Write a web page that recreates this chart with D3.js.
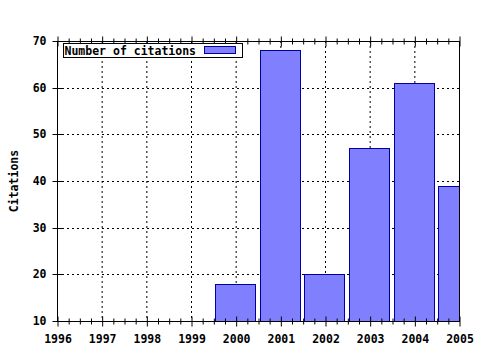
<!DOCTYPE html>
<html>
<head>
<meta charset="utf-8">
<script src="https://cdn.jsdelivr.net/npm/d3@7"></script>
<style>
  body { margin: 0; background: #fff; }
  text { font-family: "DejaVu Sans Mono", monospace; font-weight: bold; font-size: 11.5px; fill: #000; }
</style>
</head>
<body>
<div id="chart"></div>
<script>
// data
const years = [1996, 1997, 1998, 1999, 2000, 2001, 2002, 2003, 2004, 2005];
const citations = [0, 0, 0, 0, 18, 68, 20, 47, 61, 39];
const yTicks = [10, 20, 30, 40, 50, 60, 70];
const seriesName = 'Number of citations';

const width = 480, height = 350;
const margin = { top: 41, right: 21, bottom: 29, left: 57 };
const w = width - margin.left - margin.right;
const h = height - margin.top - margin.bottom;

const svg = d3.select('#chart').append('svg')
  .attr('width', width)
  .attr('height', height);

const g = svg.append('g')
  .attr('transform', `translate(${margin.left},${margin.top})`);

const x = d3.scaleLinear().domain([1996, 2005]).range([0, w]);
const y = d3.scaleLinear().domain([10, 70]).range([h, 0]);

g.append('clipPath').attr('id', 'clip')
  .append('rect').attr('width', w).attr('height', h);

// dotted grid
g.append('g').selectAll('line.vg')
  .data(years.slice(1, -1))
  .enter().append('line')
  .attr('x1', d => x(d) + 0.5).attr('x2', d => x(d) + 0.5)
  .attr('y1', 0).attr('y2', h)
  .attr('stroke', '#000').attr('stroke-dasharray', '2,3');

g.append('g').selectAll('line.hg')
  .data(yTicks.slice(1, -1))
  .enter().append('line')
  .attr('x1', 0).attr('x2', w)
  .attr('y1', d => Math.round(y(d)) + 0.5).attr('y2', d => Math.round(y(d)) + 0.5)
  .attr('stroke', '#000').attr('stroke-dasharray', '2,3');

// bars
const barW = (x(1997) - x(1996)) * 0.9;
g.append('g').attr('clip-path', 'url(#clip)')
  .selectAll('rect')
  .data(years.map((yr, i) => ({ yr, v: citations[i] })).filter(d => d.v > 10))
  .enter().append('rect')
  .attr('x', d => Math.floor(x(d.yr) - barW / 2) + 0.5)
  .attr('y', d => Math.round(y(d.v)) + 0.5)
  .attr('width', Math.round(barW))
  .attr('height', d => Math.round(y(10) - y(d.v)))
  .attr('fill', '#8080ff')
  .attr('stroke', '#0000a0');

// border
g.append('rect')
  .attr('x', 0.5).attr('y', 0.5)
  .attr('width', w).attr('height', h)
  .attr('fill', 'none').attr('stroke', '#000');

// x ticks (major + minor, mirrored on top)
const minor = [];
years.slice(0, -1).forEach(yr => { for (let k = 1; k < 4; k++) minor.push(yr + k / 4); });

const xAxis = d3.axisBottom(x).tickValues(years).tickFormat(d3.format('d')).tickSize(5).tickPadding(8);
const xg = g.append('g').attr('transform', `translate(0.5,${h + 0.5})`).call(xAxis);
xg.select('.domain').remove();
xg.selectAll('.tick line').attr('y1', -5).attr('y2', 5).attr('stroke', '#000');
xg.selectAll('text').attr('font-family', null).attr('font-size', null).attr('fill', null);

const xMinor = d3.axisBottom(x).tickValues(minor).tickFormat('').tickSize(3);
const xm = g.append('g').attr('transform', `translate(0.5,${h + 0.5})`).call(xMinor);
xm.select('.domain').remove();
xm.selectAll('.tick line').attr('y1', -3).attr('y2', 3).attr('stroke', '#000');

const xTop = d3.axisTop(x).tickValues(years).tickFormat('').tickSize(5);
const xt = g.append('g').attr('transform', 'translate(0.5,0.5)').call(xTop);
xt.select('.domain').remove();
xt.selectAll('.tick line').attr('y1', -5).attr('y2', 5).attr('stroke', '#000');

const xTopMinor = d3.axisTop(x).tickValues(minor).tickFormat('').tickSize(3);
const xtm = g.append('g').attr('transform', 'translate(0.5,0.5)').call(xTopMinor);
xtm.select('.domain').remove();
xtm.selectAll('.tick line').attr('y1', -3).attr('y2', 3).attr('stroke', '#000');

// y ticks
const yAxis = d3.axisLeft(y).tickValues(yTicks).tickSize(5).tickPadding(6);
const yg = g.append('g').attr('transform', 'translate(0.5,0)').call(yAxis);
yg.select('.domain').remove();
yg.selectAll('.tick').attr('transform', d => `translate(0,${Math.round(y(d)) + 0.5})`);
yg.selectAll('.tick line').attr('x1', -5).attr('x2', 5).attr('stroke', '#000');
yg.selectAll('text').attr('font-family', null).attr('font-size', null).attr('fill', null);

// y label
svg.append('text')
  .attr('transform', `translate(18,${margin.top + h / 2}) rotate(-90)`)
  .attr('text-anchor', 'middle')
  .text('Citations');

// legend
const lg = svg.append('g').attr('transform', 'translate(63.5,43.5)');
lg.append('rect')
  .attr('width', 179).attr('height', 14)
  .attr('fill', '#fff').attr('stroke', '#000');
lg.append('text')
  .attr('x', 1).attr('y', 11)
  .text(seriesName);
lg.append('rect')
  .attr('x', 141).attr('y', 3)
  .attr('width', 31).attr('height', 7)
  .attr('fill', '#8080ff').attr('stroke', '#0000a0');
</script>
</body>
</html>
